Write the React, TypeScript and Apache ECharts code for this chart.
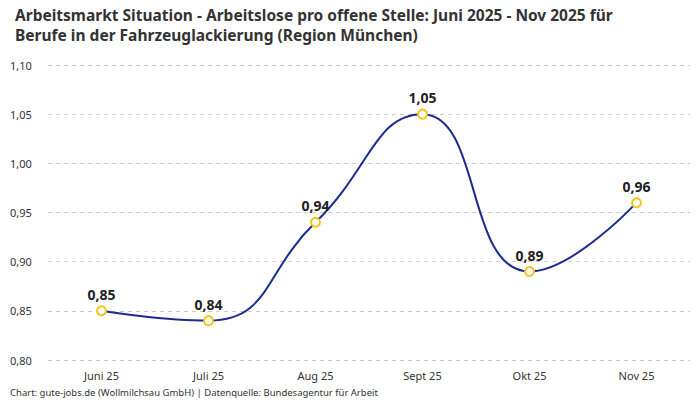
import { useEffect, useRef } from "react";
import * as echarts from "echarts";

const months = ["Juni 25", "Juli 25", "Aug 25", "Sept 25", "Okt 25", "Nov 25"];
const ratios = [0.85, 0.84, 0.94, 1.05, 0.89, 0.96];

const FONT = "'Noto Sans', sans-serif";

const fmt = (v: number) => v.toFixed(2).replace(".", ",");

export default function App() {
  const chartRef = useRef<HTMLDivElement>(null);

  useEffect(() => {
    if (!chartRef.current) return;
    document.body.style.margin = "0";
    const chart = echarts.init(chartRef.current, undefined, { renderer: "svg" });

    chart.setOption({
      animation: false,
      textStyle: { fontFamily: FONT },
      title: {
        text:
          "Arbeitsmarkt Situation - Arbeitslose pro offene Stelle: Juni 2025 - Nov 2025 für\nBerufe in der Fahrzeuglackierung (Region München)",
        left: 10,
        top: 0,
        textStyle: {
          fontFamily: FONT,
          fontSize: 15.5,
          fontWeight: "bold",
          color: "#333333",
          lineHeight: 20,
        },
      },
      graphic: [
        {
          type: "text",
          left: 10,
          top: 387,
          style: {
            text: "Chart: gute-jobs.de (Wollmilchsau GmbH) | Datenquelle: Bundesagentur für Arbeit",
            fontFamily: FONT,
            fontSize: 9.5,
            fill: "#333333",
          },
        },
      ],
      grid: { left: 48, right: 10, top: 65, bottom: 40 },
      xAxis: {
        type: "category",
        data: months,
        axisLine: { show: false },
        axisTick: { show: false },
        axisLabel: { color: "#333333", fontSize: 11, margin: 10, fontFamily: FONT },
      },
      yAxis: {
        type: "value",
        min: 0.8,
        max: 1.1,
        interval: 0.05,
        axisLabel: {
          color: "#333333",
          fontSize: 11,
          fontFamily: FONT,
          align: "left",
          margin: 38,
          formatter: (v: number) => fmt(v),
        },
        splitLine: { lineStyle: { type: [4, 4], color: "#cccccc" } },
      },
      series: [
        {
          type: "line",
          data: ratios,
          smooth: 0.5,
          symbol: "circle",
          symbolSize: 9,
          lineStyle: { color: "#1c2b8f", width: 2 },
          itemStyle: { color: "#ffffff", borderColor: "#f5c518", borderWidth: 2 },
          label: {
            show: true,
            position: "top",
            distance: 4,
            fontSize: 14,
            fontWeight: "bold",
            color: "#222222",
            fontFamily: FONT,
            formatter: (p: { value: number }) => fmt(p.value),
          },
        },
      ],
    });

    return () => {
      chart.dispose();
    };
  }, []);

  return <div ref={chartRef} style={{ width: 700, height: 400 }} />;
}
